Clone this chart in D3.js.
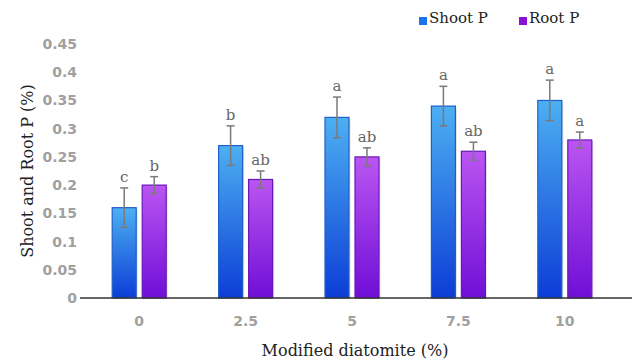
<!DOCTYPE html>
<html>
<head>
<meta charset="utf-8">
<script src="https://cdn.jsdelivr.net/npm/d3@7"></script>
<style>
  body { margin: 0; background: #fff; }
  .tick-label { font-family: "DejaVu Sans", sans-serif; font-weight: bold; font-size: 14px; fill: #a0a0a0; }
  .serif { font-family: "DejaVu Serif", serif; }
</style>
</head>
<body>
<div id="chart"></div>
<script>
// chart values
var doses = ["0", "2.5", "5", "7.5", "10"];
var shootP = [0.16, 0.27, 0.32, 0.34, 0.35];
var rootP = [0.20, 0.21, 0.25, 0.26, 0.28];
var shootErr = [0.035, 0.035, 0.036, 0.035, 0.036];
var rootErr = [0.015, 0.015, 0.016, 0.016, 0.014];
var shootLetters = ["c", "b", "a", "a", "a"];
var rootLetters = ["b", "ab", "ab", "ab", "a"];
var yTicks = [0, 0.05, 0.1, 0.15, 0.2, 0.25, 0.3, 0.35, 0.4, 0.45];
var seriesNames = ["Shoot P", "Root P"];

var width = 632, height = 361;

var svg = d3.select("#chart").append("svg")
    .attr("width", width)
    .attr("height", height);

// gradients for the bars
var defs = svg.append("defs");
function grad(id, top, bottom) {
    var g = defs.append("linearGradient")
        .attr("id", id)
        .attr("x1", 0).attr("y1", 0).attr("x2", 0).attr("y2", 1);
    g.append("stop").attr("offset", "0%").attr("stop-color", top);
    g.append("stop").attr("offset", "100%").attr("stop-color", bottom);
}
grad("gBlue", "#4db0f2", "#0c3dd6");
grad("gPurple", "#bb55f2", "#6f0fd6");
var colors = ["url(#gBlue)", "url(#gPurple)"];
var edges = ["#1f5fc8", "#6a18b8"];
var legendColors = ["#1a73e8", "#8a12d8"];

var y = d3.scaleLinear().domain([0, 0.45]).range([298, 44]);
var x = d3.scaleBand().domain(doses).range([86, 618]).paddingInner(0).paddingOuter(0);
var bw = 24, gap = 6;

// y tick labels
svg.append("g").selectAll("text")
    .data(yTicks)
    .enter().append("text")
    .attr("class", "tick-label")
    .attr("x", 77)
    .attr("y", function(d) { return y(d); })
    .attr("dy", "0.36em")
    .attr("text-anchor", "end")
    .text(function(d) { return d3.format("")(d); });

// x tick labels
svg.append("g").selectAll("text")
    .data(doses)
    .enter().append("text")
    .attr("class", "tick-label")
    .attr("x", function(d) { return x(d) + x.bandwidth() / 2; })
    .attr("y", 321)
    .attr("dy", "0.36em")
    .attr("text-anchor", "middle")
    .text(function(d) { return d; });

var groups = [shootP, rootP];
var errs = [shootErr, rootErr];
var letters = [shootLetters, rootLetters];

function barX(i, s) {
    var c = x(doses[i]) + x.bandwidth() / 2;
    return s == 0 ? c - gap / 2 - bw : c + gap / 2;
}

groups.forEach(function(vals, s) {
    var g = svg.append("g");
    // soft shadow
    g.selectAll("rect.shadow")
        .data(vals)
        .enter().append("rect")
        .attr("class", "shadow")
        .attr("x", function(d, i) { return barX(i, s) + 1.5; })
        .attr("y", function(d) { return y(d) + 1.5; })
        .attr("width", bw)
        .attr("height", function(d) { return y(0) - y(d) - 1.5; })
        .attr("fill", "#000")
        .attr("opacity", 0.12);
    g.selectAll("rect.bar")
        .data(vals)
        .enter().append("rect")
        .attr("class", "bar")
        .attr("x", function(d, i) { return barX(i, s); })
        .attr("y", function(d) { return y(d); })
        .attr("width", bw)
        .attr("height", function(d) { return y(0) - y(d); })
        .attr("fill", colors[s])
        .attr("stroke", edges[s])
        .attr("stroke-width", 1.2);
});

// x axis line
svg.append("line")
    .attr("x1", 80).attr("x2", 632)
    .attr("y1", y(0)).attr("y2", y(0))
    .attr("stroke", "#333")
    .attr("stroke-width", 1.5);

// error bars and letters
groups.forEach(function(vals, s) {
    var g = svg.append("g");
    vals.forEach(function(v, i) {
        var cx = barX(i, s) + bw / 2,
            top = y(v + errs[s][i]),
            bot = y(v - errs[s][i]);
        g.append("line").attr("x1", cx).attr("x2", cx).attr("y1", top).attr("y2", bot)
            .attr("stroke", "#7a7a7a").attr("stroke-width", 1.5);
        g.append("line").attr("x1", cx - 4).attr("x2", cx + 4).attr("y1", top).attr("y2", top)
            .attr("stroke", "#7a7a7a").attr("stroke-width", 1.5);
        g.append("line").attr("x1", cx - 4).attr("x2", cx + 4).attr("y1", bot).attr("y2", bot)
            .attr("stroke", "#7a7a7a").attr("stroke-width", 1.5);
        g.append("text")
            .attr("class", "serif")
            .attr("x", cx)
            .attr("y", top - 6)
            .attr("text-anchor", "middle")
            .style("font-size", "15px")
            .style("fill", "#666")
            .text(letters[s][i]);
    });
});

// axis titles
svg.append("text")
    .attr("class", "serif")
    .attr("x", 355)
    .attr("y", 356)
    .attr("text-anchor", "middle")
    .style("font-size", "16px")
    .style("fill", "#222")
    .text("Modified diatomite (%)");

svg.append("text")
    .attr("class", "serif")
    .attr("transform", "translate(33,171) rotate(-90)")
    .attr("text-anchor", "middle")
    .style("font-size", "16px")
    .style("fill", "#222")
    .text("Shoot and Root P (%)");

// legend
var legend = svg.append("g").attr("class", "legend");
var lx = [419, 519];
seriesNames.forEach(function(name, s) {
    legend.append("rect")
        .attr("x", lx[s]).attr("y", 17)
        .attr("width", 8).attr("height", 8)
        .attr("fill", legendColors[s]);
    legend.append("text")
        .attr("class", "serif")
        .attr("x", lx[s] + 10)
        .attr("y", 23)
        .style("font-size", "15px")
        .style("fill", "#222")
        .text(name);
});
</script>
</body>
</html>
